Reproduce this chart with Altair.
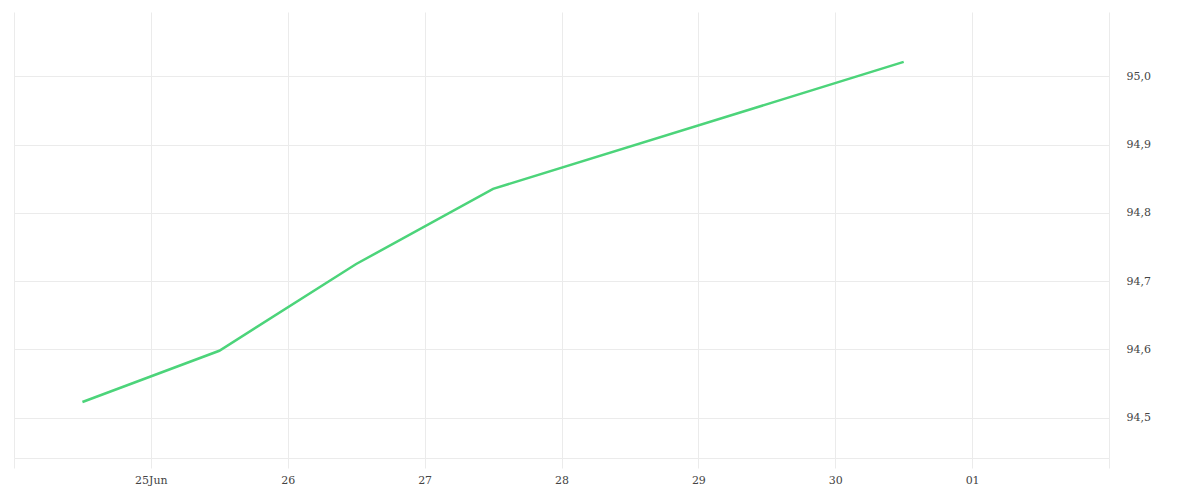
import altair as alt
import pandas as pd

dates = ["2024-06-24T12:00:00", "2024-06-25T12:00:00", "2024-06-26T12:00:00",
         "2024-06-27T12:00:00", "2024-06-30T12:00:00"]
values = [94.523, 94.598, 94.725, 94.835, 95.021]

df = pd.DataFrame({"date": dates, "value": values})

FONT = "DejaVu Serif"
GRID = "#ebebeb"

x = alt.X(
    "date:T",
    scale=alt.Scale(type="utc", domain=["2024-06-24T00:00:00", "2024-07-02T00:00:00"], nice=False),
    axis=alt.Axis(
        title=None,
        tickCount={"interval": "day", "step": 1},
        labelExpr="utcdate(datum.value) == 24 || utcdate(datum.value) == 2 ? '' : (utcdate(datum.value) == 25 ? '25Jun' : utcFormat(datum.value, '%d'))",
        grid=True,
        gridColor=GRID,
        domainColor=GRID,
        tickColor=GRID,
        tickSize=10,
        labelPadding=6,
        labelFont=FONT,
        labelFontSize=11,
        labelColor="#444444",
        labelFlush=False,
        labelOverlap=False,
    ),
)

y = alt.Y(
    "value:Q",
    scale=alt.Scale(domain=[94.441, 95.094], nice=False, zero=False),
    axis=alt.Axis(
        title=None,
        orient="right",
        values=[94.5, 94.6, 94.7, 94.8, 94.9, 95.0],
        labelExpr="replace(format(datum.value, '.1f'), '.', ',')",
        grid=True,
        gridColor=GRID,
        domain=False,
        ticks=False,
        labelPadding=17,
        labelFont=FONT,
        labelFontSize=11,
        labelColor="#444444",
    ),
)

chart = (
    alt.Chart(df)
    .mark_line(color="#4cd47a", strokeWidth=2.5)
    .encode(x=x, y=y)
    .properties(width=1095, height=446, padding={"left": 5, "top": 4, "right": 5, "bottom": 5})
    .configure_view(stroke=None)
)

chart.save("out.html", embed_options={"renderer": "svg", "actions": False})
